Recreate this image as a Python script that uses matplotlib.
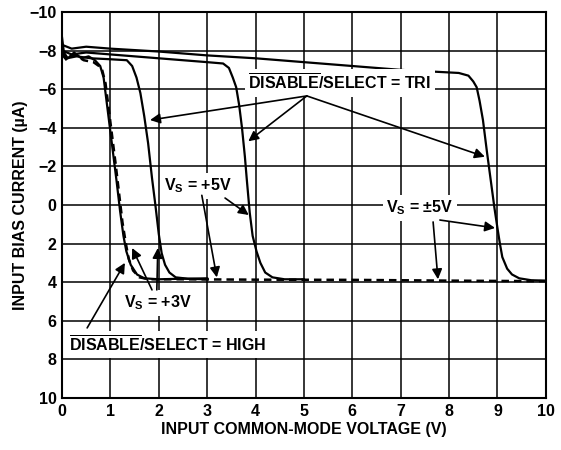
import matplotlib
matplotlib.use("Agg")
import matplotlib.pyplot as plt

plt.rcParams['font.family'] = ['Liberation Sans', 'DejaVu Sans']
plt.rcParams['font.weight'] = 'bold'
plt.rcParams['mathtext.fontset'] = 'custom'
plt.rcParams['mathtext.rm'] = 'Liberation Sans:bold'
plt.rcParams['mathtext.bf'] = 'Liberation Sans:bold'
plt.rcParams['mathtext.it'] = 'Liberation Sans:bold'

# DISABLE/SELECT = HIGH, solid trace (+3V)
high_x = [0, 0.04, 0.12, 0.25, 0.4, 0.55, 0.68, 0.79, 0.86, 0.93, 1.0, 1.06, 1.13, 1.2, 1.27,
          1.33, 1.42, 1.55, 1.7, 2.0, 2.5, 3.0]
high_y = [-8.7, -7.9, -7.6, -7.9, -7.6, -7.7, -7.5, -7.2, -6.6, -5.2, -3.8, -2.6, -1.2, 0.3, 1.6,
          2.4, 3.1, 3.6, 3.8, 3.85, 3.82, 3.85]

# DISABLE/SELECT = HIGH, dashed trace (full range)
high_dash_x = [0, 0.1, 0.25, 0.45, 0.65, 0.82, 0.9, 0.97, 1.04, 1.11, 1.18, 1.25, 1.32, 1.38,
               1.47, 1.6, 1.8, 2.5, 4, 6, 8, 10]
high_dash_y = [-7.8, -7.5, -7.8, -7.5, -7.4, -7.1, -6.3, -4.9, -3.5, -2.1, -0.6, 0.9, 2.0, 2.8,
               3.4, 3.75, 3.85, 3.85, 3.87, 3.88, 3.92, 3.95]

# DISABLE/SELECT = TRI, VS = +3V
tri3_x = [0, 0.1, 0.3, 0.6, 1.0, 1.34, 1.45, 1.54, 1.62, 1.7, 1.78, 1.86, 1.93, 2.0, 2.06,
          2.13, 2.22, 2.35, 2.6, 3.0]
tri3_y = [-7.9, -7.6, -7.7, -7.6, -7.55, -7.5, -7.2, -6.6, -5.8, -4.6, -3.2, -1.4, 0.0, 1.5, 2.5,
          3.1, 3.5, 3.75, 3.82, 3.8]

# DISABLE/SELECT = TRI, VS = +5V
tri5_x = [0, 0.2, 0.5, 1.0, 2.0, 3.0, 3.33, 3.45, 3.53, 3.6, 3.66, 3.72, 3.78, 3.82, 3.88, 3.94,
          4.02, 4.1, 4.2, 4.35, 4.6, 5.0]
tri5_y = [-8.0, -7.8, -7.9, -7.8, -7.6, -7.4, -7.33, -7.1, -6.6, -6.1, -5.2, -4.0, -2.5, -1.3, 0.4,
          1.6, 2.4, 3.0, 3.5, 3.75, 3.85, 3.85]

# DISABLE/SELECT = TRI, VS = +/-5V
tri55_x = [0, 0.2, 0.5, 1, 2, 3, 4, 5, 6, 7, 8.2, 8.4, 8.5, 8.57, 8.63, 8.7, 8.78, 8.86, 8.94,
           9.0, 9.05, 9.1, 9.2, 9.3, 9.45, 9.7, 10]
tri55_y = [-8.3, -8.1, -8.2, -8.1, -7.95, -7.75, -7.6, -7.4, -7.2, -7.0, -6.84, -6.7, -6.4, -6.1,
           -5.4, -4.4, -2.8, -1.3, 0.2, 1.2, 2.0, 2.7, 3.3, 3.6, 3.8, 3.9, 3.92]

x_ticks = list(range(0, 11))
y_ticks = [-10, -8, -6, -4, -2, 0, 2, 4, 6, 8, 10]

FS = 11.5

fig = plt.figure(figsize=(5.61, 4.5), dpi=100)
ax = fig.add_axes([0.1105, 0.1156, 0.8625, 0.8578])

ax.plot(high_x, high_y, color='k', lw=1.6, zorder=3)
ax.plot(high_dash_x, high_dash_y, color='k', lw=1.8, dashes=(3, 2), zorder=3)
ax.plot(tri3_x, tri3_y, color='k', lw=1.6, zorder=3)
ax.plot(tri5_x, tri5_y, color='k', lw=1.6, zorder=3)
ax.plot(tri55_x, tri55_y, color='k', lw=1.6, zorder=3)

ax.set_xlim(0, 10)
ax.set_ylim(10, -10)
ax.set_xticks(x_ticks)
ax.set_yticks(y_ticks)
ax.set_xticklabels([str(v) for v in x_ticks])
ax.set_yticklabels([str(v).replace('-', '\u2212') for v in y_ticks])
ax.tick_params(length=0, pad=4, labelsize=FS)
for lab in ax.get_xticklabels() + ax.get_yticklabels():
    lab.set_fontweight('bold')
ax.grid(True, color='k', lw=1.1)
for s in ax.spines.values():
    s.set_linewidth(1.5)

ax.set_xlabel('INPUT COMMON-MODE VOLTAGE (V)', fontsize=FS, fontweight='bold')
ax.set_ylabel('INPUT BIAS CURRENT (\u00b5A)', fontsize=FS, fontweight='bold')
ax.xaxis.set_label_coords(0.5, -0.062)
ax.yaxis.set_label_coords(-0.07, 0.5)

box = dict(facecolor='white', edgecolor='none', pad=2.5)
arrow = dict(arrowstyle='-|>', color='k', lw=1.2, mutation_scale=15, shrinkA=0, shrinkB=0)


def label(x, y, s):
    ax.text(x, y, s, ha='center', va='center', fontsize=FS, fontweight='bold',
            bbox=box, zorder=5)


def point(start, tip):
    ax.annotate('', xy=tip, xytext=start, arrowprops=arrow, zorder=6)


label(5.74, -6.32, r'$\overline{\mathrm{DISABLE}}$/SELECT = TRI')
for tip in [(1.82, -4.4), (3.85, -3.3), (8.74, -2.5)]:
    point((5.06, -5.65), tip)

label(2.81, -0.98, r'V$_\mathrm{S}$ = +5V')
point((2.89, -0.5), (3.2, 3.75))
point((3.37, -0.36), (3.86, 0.52))

label(7.40, 0.16, r'V$_\mathrm{S}$ = $\pm$5V')
point((7.67, 0.88), (7.77, 3.85))
point((7.81, 0.78), (8.95, 1.19))

label(1.98, 5.08, r'V$_\mathrm{S}$ = +3V')
point((1.86, 4.4), (1.45, 2.23))
point((1.96, 4.4), (1.98, 2.23))

label(2.19, 7.25, r'$\overline{\mathrm{DISABLE}}$/SELECT = HIGH')
point((0.52, 6.37), (1.3, 3.0))

fig.savefig('out.png', dpi=100)
